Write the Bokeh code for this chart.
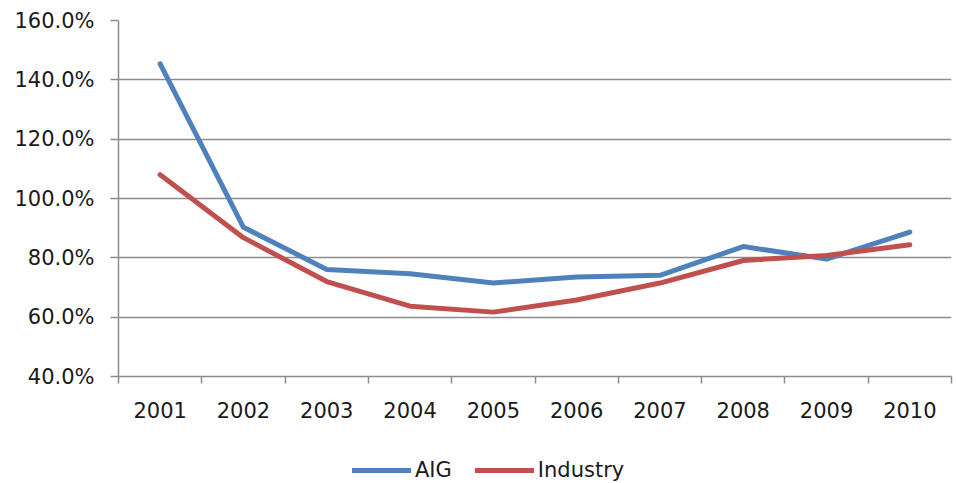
from bokeh.plotting import figure
from bokeh.layouts import column
from bokeh.models import (Range1d, FixedTicker, PrintfTickFormatter, Legend, LegendItem,
                          ColumnDataSource)
from bokeh.embed import file_html
from bokeh.resources import INLINE

years = ["2001", "2002", "2003", "2004", "2005", "2006", "2007", "2008", "2009", "2010"]
aig = [145.4, 90.3, 76.1, 74.6, 71.5, 73.5, 74.1, 83.8, 79.6, 88.7]
industry = [108.0, 86.8, 72.0, 63.7, 61.7, 65.8, 71.5, 79.1, 80.8, 84.4]
y_ticks = [40, 60, 80, 100, 120, 140, 160]
series_names = ["AIG", "Industry"]

FONT = "DejaVu Sans"
BLUE = "#4F81BD"
RED = "#C0504D"
GRID = "#8c8c8c"
TXT = "#1a1a1a"

xpos = [i + 0.5 for i in range(len(years))]
src = ColumnDataSource(dict(x=xpos, aig=aig, industry=industry))

p = figure(width=956, height=447,
           min_border_left=118, min_border_right=5, min_border_top=20, min_border_bottom=71,
           x_range=Range1d(0, len(years)), y_range=Range1d(40, 160),
           output_backend="svg", toolbar_location=None)
p.outline_line_color = None
p.background_fill_color = "white"
p.border_fill_color = "white"

p.line("x", "aig", source=src, line_color=BLUE, line_width=5, line_join="round", line_cap="round")
p.line("x", "industry", source=src, line_color=RED, line_width=5, line_join="round", line_cap="round")

# x axis: labels centred on categories, tick marks on boundaries
xa = p.xaxis[0]
xa.ticker = FixedTicker(ticks=xpos, minor_ticks=list(range(len(years) + 1)))
xa.major_label_overrides = {x: y for x, y in zip(xpos, years)}
xa.major_tick_line_color = None
xa.minor_tick_line_color = GRID
xa.minor_tick_out = 7
xa.minor_tick_in = 0
xa.minor_tick_line_width = 1.5
xa.axis_line_color = GRID
xa.axis_line_width = 1.5
xa.major_label_text_font = FONT
xa.major_label_text_font_size = "21px"
xa.major_label_text_color = TXT
xa.major_label_standoff = 18

ya = p.yaxis[0]
ya.ticker = FixedTicker(ticks=y_ticks)
ya.formatter = PrintfTickFormatter(format="%.1f%%")
ya.minor_tick_line_color = None
ya.major_tick_line_color = GRID
ya.major_tick_line_width = 1.5
ya.major_tick_out = 8
ya.major_tick_in = 0
ya.axis_line_color = GRID
ya.axis_line_width = 1.5
ya.major_label_text_font = FONT
ya.major_label_text_font_size = "21px"
ya.major_label_text_color = TXT
ya.major_label_standoff = 16

p.xgrid.grid_line_color = None
p.ygrid.ticker = FixedTicker(ticks=y_ticks)
p.ygrid.grid_line_color = GRID
p.ygrid.grid_line_width = 1.5

# legend strip below the chart (its lines use the same data but lie outside its view)
lg = figure(width=956, height=36, min_border=0,
            x_range=Range1d(0, len(years)), y_range=Range1d(0, 1),
            output_backend="svg", toolbar_location=None)
lg.outline_line_color = None
lg.axis.visible = False
lg.grid.grid_line_color = None
la = lg.line("x", "aig", source=src, line_color=BLUE, line_width=5, line_cap="round")
lb = lg.line("x", "industry", source=src, line_color=RED, line_width=5, line_cap="round")
legend = Legend(items=[LegendItem(label=series_names[0], renderers=[la]),
                       LegendItem(label=series_names[1], renderers=[lb])],
                orientation="horizontal", location=(234, 1),
                label_text_font=FONT, label_text_font_size="21px", label_text_color=TXT,
                glyph_width=59, glyph_height=24, label_standoff=4, spacing=23,
                border_line_color=None, background_fill_alpha=0,
                padding=0, margin=0)
lg.add_layout(legend, "center")

layout = column(p, lg, spacing=0)
open("out.html", "w").write(file_html(layout, INLINE))
